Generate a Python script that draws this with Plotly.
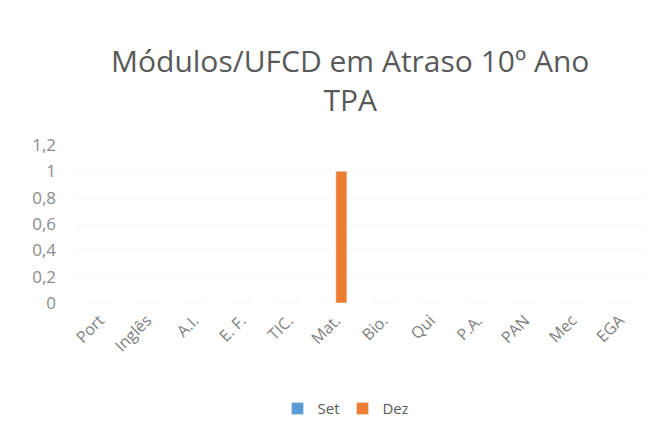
import plotly.graph_objects as go

categories = ["Port", "Inglês", "A.I.", "E. F.", "TIC.", "Mat.", "Bio.", "Qui", "P.A.", "PAN", "Mec", "EGA"]
set_values = [0, 0, 0, 0, 0, 0, 0, 0, 0, 0, 0, 0]
dez_values = [0, 0, 0, 0, 0, 1, 0, 0, 0, 0, 0, 0]
y_ticks = [0, 0.2, 0.4, 0.6, 0.8, 1, 1.2]
y_tick_labels = ["0", "0,2", "0,4", "0,6", "0,8", "1", "1,2"]
title_text = "Módulos/UFCD em Atraso 10º Ano<br>TPA"

fig = go.Figure()
fig.add_trace(go.Bar(name="Set", x=categories, y=set_values, marker_color="#5B9BD5"))
fig.add_trace(go.Bar(name="Dez", x=categories, y=dez_values, marker_color="#ED7D31"))

fig.add_annotation(text=title_text, x=0.483, y=1.41, xref="paper", yref="paper",
                   xanchor="center", yanchor="middle", showarrow=False,
                   font=dict(size=30, color="#595959"))

fig.update_layout(
    width=654, height=426,
    margin=dict(l=68, r=19, t=137, b=131, autoexpand=False),
    paper_bgcolor="white", plot_bgcolor="white",
    barmode="group", bargap=0.535, bargroupgap=0,
    font=dict(family="Open Sans", color="#595959"),
    xaxis=dict(tickangle=-45, tickfont=dict(size=16, color="#7f7f7f"), showline=False,
               showgrid=False, ticks="", automargin=False, ticklabelstandoff=4),
    yaxis=dict(range=[0, 1.2], tickvals=y_ticks, ticktext=y_tick_labels,
               tickfont=dict(size=17, color="#8c8c8c"), showgrid=True, gridcolor="#f8f8f8",
               zeroline=False, ticks="", ticklabelstandoff=19, automargin=False),
    legend=dict(orientation="h", x=0.47, xanchor="center", y=-0.67, yanchor="middle",
                font=dict(size=15, color="#595959"), entrywidth=20, itemwidth=30),
    showlegend=True,
)

fig.write_html("out.html")
